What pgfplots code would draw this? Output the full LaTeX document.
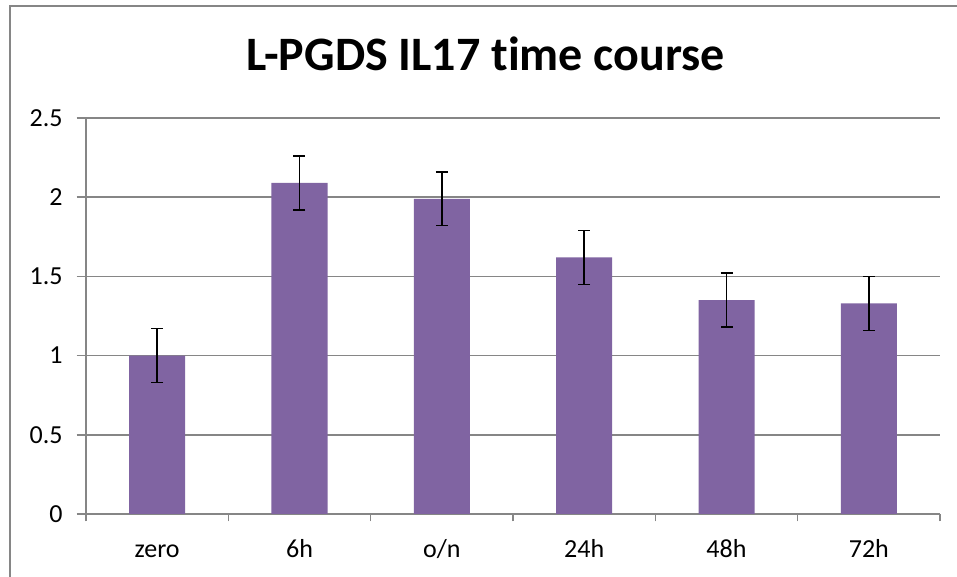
\documentclass[border=0pt]{standalone}
\usepackage{fontspec}
\setmainfont{Carlito}[Ligatures=NoCommon]
\usepackage{pgfplots}
\pgfplotsset{compat=1.18}
\definecolor{barpurple}{HTML}{8064A2}
\definecolor{axgray}{HTML}{868686}
\begin{document}
\begin{tikzpicture}[x=0.75pt,y=0.75pt]
\useasboundingbox (0,0) rectangle (957,577);
\draw[axgray, line width=1.6pt] (10,-5) -- (10,571) -- (962,571);
\node[font=\fontsize{36}{40}\selectfont\bfseries, anchor=base] at (486,506) {L-PGDS IL17 time course};
\begin{axis}[
  at={(86*0.75pt,63*0.75pt)}, anchor=south west,
  width=640.5pt, height=297pt, scale only axis,
  xmin=-0.5, xmax=5.5, ymin=0, ymax=2.5,
  ytick={0,0.5,...,2.5},
  yticklabels={0,0.5,1,1.5,2,2.5},
  xtick={0,1,2,3,4,5},
  xticklabels={zero,6h,o/n,24h,48h,72h},
  minor xtick={-0.5,0.5,1.5,2.5,3.5,4.5,5.5},
  axis x line=bottom, axis y line=left,
  axis line style={axgray, line width=1.2pt, -},
  ymajorgrids, grid style={axgray, line width=1.2pt},
  tick align=outside,
  major tick length=7pt,
  minor tick length=5.5pt,
  every tick/.style={axgray, line width=1.2pt},
  x tick style={draw=none},
  minor x tick style={axgray, line width=1.2pt, draw=axgray},
  tick label style={font=\fontsize{19.5}{22}\selectfont, black},
  /pgf/number format/assume math mode=true,
  yticklabel style={xshift=-7pt},
  xticklabel style={text height=13pt, text depth=4pt, yshift=-9pt},
  clip=false,
]
\addplot[ybar, bar width=42pt, fill=barpurple, draw=none,
  error bars/.cd, y dir=both, y explicit,
  error bar style={black, line width=1.1pt},
  error mark options={rotate=90, mark size=4.5pt, black, line width=1.1pt}]
  coordinates {
  (0,1.00) +- (0,0.17)
  (1,2.09) +- (0,0.17)
  (2,1.99) +- (0,0.17)
  (3,1.62) +- (0,0.17)
  (4,1.35) +- (0,0.17)
  (5,1.33) +- (0,0.17)
  };
\end{axis}
\end{tikzpicture}
\end{document}
